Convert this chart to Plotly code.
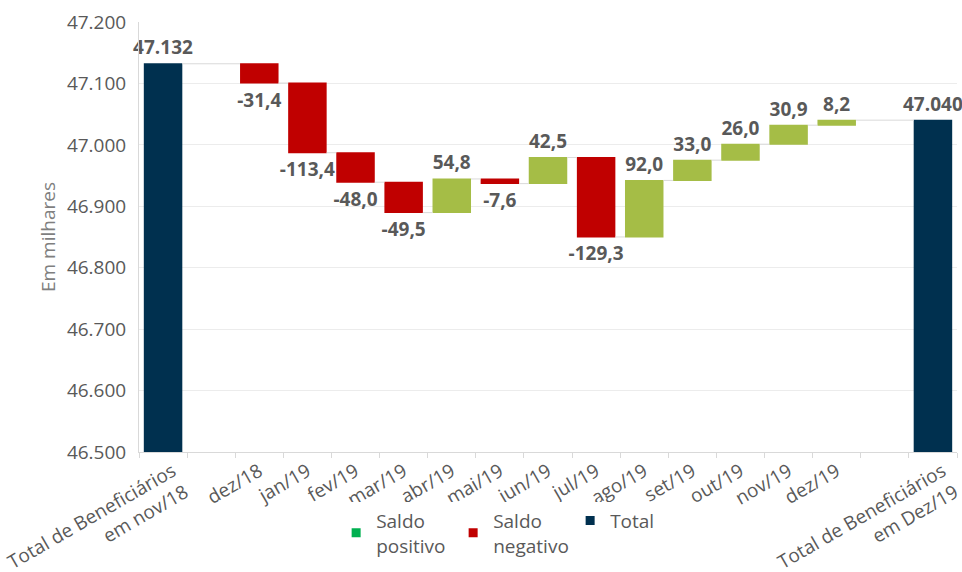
import plotly.graph_objects as go

# ---- data ----
categories = ["Total de Beneficiários<br>em nov/18", "dez/18", "jan/19", "fev/19", "mar/19",
              "abr/19", "mai/19", "jun/19", "jul/19", "ago/19", "set/19", "out/19",
              "nov/19", "dez/19", "Total de Beneficiários<br>em Dez/19"]
start_total = 47132
monthly_changes = [-31.4, -113.4, -48.0, -49.5, 54.8, -7.6, 42.5, -129.3, 92.0, 33.0, 26.0, 30.9, 8.2]
end_total = 47040
y_ticks = [46500, 46600, 46700, 46800, 46900, 47000, 47100, 47200]
legend_names = ["Saldo<br>positivo", "Saldo<br>negativo", "Total"]

# ---- styling ----
C_POS = "#a5bd46"
C_NEG = "#c00000"
C_TOT = "#00304f"
C_LEG_POS = "#00b050"
FONT = "Open Sans"
TXT = "#595959"

values = [start_total] + monthly_changes + [end_total]
measures = ["absolute"] + ["relative"] * len(monthly_changes) + ["absolute"]

# positions: an empty slot after the first total and before the last total
n_m = len(monthly_changes)
pos = [0] + [i + 2 for i in range(n_m)] + [n_m + 3]
# multi-line total labels sit a little to the right of their bar (as in the original)
label_pos = [p + (0.2 if m == "absolute" else 0) for p, m in zip(pos, measures)]

def fmt_total(v):
    return f"{v:,.0f}".replace(",", ".")

def fmt_delta(v):
    return f"{v:.1f}".replace(".", ",")

labels = [fmt_total(start_total)] + [fmt_delta(v) for v in monthly_changes] + [fmt_total(end_total)]

fig = go.Figure()
fig.add_trace(go.Waterfall(
    x=pos, y=values, measure=measures, width=0.8,
    text=labels, textposition="outside", cliponaxis=False, constraintext="none",
    textfont=dict(family=FONT, size=19, color=TXT, weight="bold"),
    increasing=dict(marker=dict(color=C_POS, line=dict(width=0))),
    decreasing=dict(marker=dict(color=C_NEG, line=dict(width=0))),
    totals=dict(marker=dict(color=C_TOT, line=dict(width=0))),
    connector=dict(line=dict(color="#d9d9d9", width=1)),
    showlegend=False, hoverinfo="skip",
))

for name, col in zip(legend_names, [C_LEG_POS, C_NEG, C_TOT]):
    fig.add_trace(go.Scatter(
        x=[None], y=[None], mode="markers", name=name,
        marker=dict(symbol="square", size=9, color=col),
    ))

fig.update_layout(
    width=962, height=572,
    margin=dict(l=139, r=5, t=22, b=120),
    paper_bgcolor="white", plot_bgcolor="white",
    separators=",.",
    font=dict(family=FONT, size=19, color=TXT),
    showlegend=True,
    legend=dict(orientation="h", x=0.241, xanchor="left",
                yref="container", y=0.123, yanchor="top",
                font=dict(family=FONT, size=19, color=TXT),
                valign="middle", itemwidth=30, traceorder="normal",
                entrywidth=72, tracegroupgap=0),
    xaxis=dict(
        range=[-0.5, n_m + 3.5], tickmode="array", tickvals=label_pos, ticktext=categories,
        tickangle=-30, showgrid=False, zeroline=False, showline=True,
        linecolor="#d9d9d9", linewidth=1, ticks="", automargin=False,
        ticklabeloverflow="allow",
        tickfont=dict(family=FONT, size=19, color=TXT),
        minor=dict(tickmode="linear", tick0=0.5, dtick=1, ticks="outside",
                   ticklen=5, tickcolor="#d9d9d9", showgrid=False),
    ),
    yaxis=dict(
        range=[y_ticks[0], y_ticks[-1]], tickmode="array", tickvals=y_ticks,
        tickformat=",.0f", showgrid=True, gridcolor="#ececec", gridwidth=1,
        zeroline=False, showline=True, linecolor="#d9d9d9", linewidth=1,
        ticks="", ticklabelstandoff=8, automargin=False,
        tickfont=dict(family=FONT, size=19, color=TXT),
        title=dict(text="Em milhares", font=dict(family=FONT, size=19, color="#7f7f7f"),
                   standoff=6),
    ),
)

fig.write_html("out.html", config={"displayModeBar": False},
               post_script="document.body.style.margin='0';")
